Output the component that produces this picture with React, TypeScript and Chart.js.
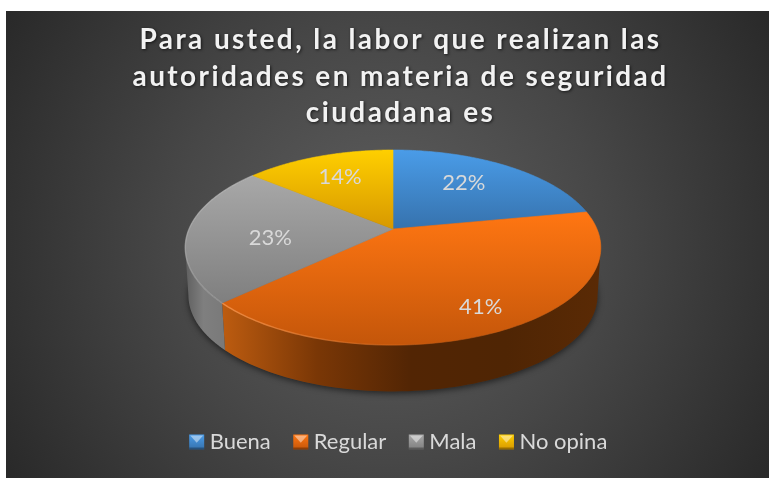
import React, { useEffect, useRef } from "react";
import { Chart, registerables } from "chart.js";

Chart.register(...registerables);

const categories = ["Buena", "Regular", "Mala", "No opina"];
const values = [22, 41, 23, 14];
const titleLines = [
  "Para usted, la labor que realizan las",
  "autoridades en materia de seguridad",
  "ciudadana es",
];
const baseColors = ["#3f87cf", "#ed6d10", "#999999", "#efb700"];
const topLight = ["#4a9ce8", "#ff7612", "#a8a8a8", "#ffcf00"];
const topDark = ["#3672ad", "#c4560a", "#7f7f7f", "#d79800"];
const sideStops: string[][] = [
  ["#1f4a73", "#1f4a73"],
  ["#bd5c10", "#7a3706", "#522504", "#4f2504", "#5a2a05"],
  ["#5f5f5f", "#7f7f7f", "#7a7a7a"],
  ["#8a6a00", "#8a6a00"],
];
const labelRadii = [0.62, 0.8, 0.6, 0.68];
const labelShiftX = [-3, 2, 0, 0];
const labelShiftY = [-5, 0, 7, 0];
const labelColor = "#d9d9d9";

const CX = 393;
const CY = 229;
const RX = 204;
const RY = 94;
const P = 0.19;
const DEPTH = 48.5;
const LOWER = 0.985;

function project(a: number, f = 1, dy = 0) {
  const c = Math.cos(a) * f;
  const s = Math.sin(a) * f;
  const k = 1 / (1 - P * s);
  return { x: CX + RX * c * k, y: CY + dy + RY * s * k };
}

const backdrop = {
  id: "backdrop",
  beforeDraw(chart: any) {
    const { ctx, width, height } = chart;
    ctx.save();
    ctx.fillStyle = "#ffffff";
    ctx.fillRect(0, 0, width, height);
    const g = ctx.createRadialGradient(388, 245, 10, 388, 245, 470);
    g.addColorStop(0, "#5e5e5e");
    g.addColorStop(0.45, "#474747");
    g.addColorStop(1, "#262626");
    ctx.fillStyle = g;
    ctx.fillRect(6, 11, width - 6, height - 11);
    ctx.restore();
    const t = chart.titleBlock;
    if (t && !t.__wrapped) {
      t.__wrapped = true;
      const d = t.draw.bind(t);
      t.draw = () => {
        const c = chart.ctx;
        c.save();
        (c as any).letterSpacing = "2.4px";
        c.shadowColor = "rgba(0,0,0,0.65)";
        c.shadowBlur = 3;
        c.shadowOffsetX = 1;
        c.shadowOffsetY = 1;
        d();
        c.restore();
      };
    }
  },
};

const pie3d = {
  id: "pie3d",
  beforeDatasetsDraw(chart: any) {
    const { ctx } = chart;
    const arcs = chart.getDatasetMeta(0).data;
    const lim = Math.asin(P);
    ctx.save();

    // soft shadow under the body
    ctx.save();
    ctx.shadowColor = "rgba(0,0,0,0.55)";
    ctx.shadowBlur = 6;
    ctx.shadowOffsetY = 2;
    ctx.fillStyle = "#3a3a3a";
    ctx.beginPath();
    for (let i = 0; i <= 120; i++) {
      const a = (i / 120) * Math.PI * 2;
      const p = project(a, LOWER, DEPTH);
      if (i === 0) ctx.moveTo(p.x, p.y);
      else ctx.lineTo(p.x, p.y);
    }
    ctx.closePath();
    ctx.fill();
    ctx.restore();

    // side walls
    arcs.forEach((arc: any, i: number) => {
      let a0 = arc.startAngle;
      let a1 = arc.endAngle;
      a0 = Math.max(a0, lim);
      a1 = Math.min(a1, Math.PI - lim);
      if (a1 <= a0) return;
      const stops = sideStops[i];
      const p0 = project(a0);
      const p1 = project(a1);
      const g = ctx.createLinearGradient(p1.x, 0, p0.x, 0);
      stops.forEach((c, j) => g.addColorStop(j / (stops.length - 1), c));
      ctx.fillStyle = g;
      ctx.beginPath();
      const N = 80;
      for (let j = 0; j <= N; j++) {
        const p = project(a0 + ((a1 - a0) * j) / N);
        if (j === 0) ctx.moveTo(p.x, p.y);
        else ctx.lineTo(p.x, p.y);
      }
      for (let j = N; j >= 0; j--) {
        const p = project(a0 + ((a1 - a0) * j) / N, LOWER, DEPTH);
        ctx.lineTo(p.x, p.y);
      }
      ctx.closePath();
      ctx.fill();
    });

    // top surfaces
    arcs.forEach((arc: any, i: number) => {
      const a0 = arc.startAngle;
      const a1 = arc.endAngle;
      const N = 120;
      let minY = Infinity;
      let maxY = -Infinity;
      const pts: { x: number; y: number }[] = [];
      for (let j = 0; j <= N; j++) {
        const p = project(a0 + ((a1 - a0) * j) / N);
        pts.push(p);
        minY = Math.min(minY, p.y);
        maxY = Math.max(maxY, p.y);
      }
      minY = Math.min(minY, CY);
      maxY = Math.max(maxY, CY);
      const g = ctx.createLinearGradient(0, minY, 0, maxY);
      g.addColorStop(0, topLight[i]);
      g.addColorStop(1, topDark[i]);
      ctx.fillStyle = g;
      ctx.beginPath();
      ctx.moveTo(CX, CY);
      pts.forEach((p) => ctx.lineTo(p.x, p.y));
      ctx.closePath();
      ctx.fill();
      ctx.strokeStyle = g;
      ctx.lineWidth = 0.6;
      ctx.stroke();

      // rim highlight
      const h = ctx.createLinearGradient(186, 0, 440, 0);
      if (i === 1) {
        h.addColorStop(0, "rgba(255,160,90,0.85)");
        h.addColorStop(1, "rgba(255,140,60,0)");
      } else if (i === 2) {
        h.addColorStop(0, "rgba(255,255,255,0.2)");
        h.addColorStop(1, "rgba(255,255,255,0.06)");
      } else {
        return;
      }
      ctx.strokeStyle = h;
      ctx.lineWidth = 1.4;
      ctx.beginPath();
      pts.forEach((p, j) => (j === 0 ? ctx.moveTo(p.x, p.y) : ctx.lineTo(p.x, p.y)));
      ctx.stroke();
    });

    // value labels
    ctx.fillStyle = labelColor;
    ctx.font = "22px Lato";
    ctx.textAlign = "center";
    ctx.textBaseline = "middle";
    arcs.forEach((arc: any, i: number) => {
      const mid = (arc.startAngle + arc.endAngle) / 2;
      const p = project(mid, labelRadii[i]);
      ctx.fillText(values[i] + "%", p.x + labelShiftX[i], p.y + labelShiftY[i]);
    });
    ctx.restore();
    return false;
  },
  afterDraw(chart: any) {
    const { ctx, legend } = chart;
    if (!legend || !legend.legendHitBoxes) return;
    legend.legendHitBoxes.forEach((b: any, i: number) => {
      const x = b.left - 4.5;
      const s = 15;
      const y = b.top + (b.height - s) / 2;
      ctx.save();
      const g = ctx.createLinearGradient(0, y, 0, y + s);
      g.addColorStop(0, topLight[i]);
      g.addColorStop(1, topDark[i]);
      ctx.fillStyle = g;
      ctx.fillRect(x, y, s, s);
      ctx.fillStyle = "rgba(255,255,255,0.45)";
      ctx.beginPath();
      ctx.moveTo(x + 1, y + 1);
      ctx.lineTo(x + s - 1, y + 1);
      ctx.lineTo(x + s / 2, y + s * 0.55);
      ctx.closePath();
      ctx.fill();
      ctx.fillStyle = "rgba(0,0,0,0.3)";
      ctx.fillRect(x, y + s - 2, s, 2);
      ctx.restore();
    });
  },
};

export default function App() {
  const ref = useRef<HTMLCanvasElement>(null);
  useEffect(() => {
    document.body.style.margin = "0";
    const chart = new Chart(ref.current!, {
      type: "pie",
      data: {
        labels: categories,
        datasets: [{ data: values, backgroundColor: baseColors, borderWidth: 0 }],
      },
      options: {
        responsive: false,
        animation: false,
        layout: { padding: { left: 32, right: 0, top: 0, bottom: 15 } },
        plugins: {
          tooltip: { enabled: false },
          title: {
            display: true,
            text: titleLines,
            color: "#f2f2f2",
            font: { family: "Lato", size: 28, weight: "bold", lineHeight: 1.3 },
            padding: { top: 22, bottom: 10 },
          },
          legend: {
            position: "bottom",
            labels: {
              boxWidth: 5,
              boxHeight: 5,
              color: labelColor,
              font: { family: "Lato", size: 22 },
              padding: 27,
              generateLabels: () =>
                categories.map((text, i) => ({
                  text,
                  fillStyle: "rgba(0,0,0,0)",
                  strokeStyle: "rgba(0,0,0,0)",
                  lineWidth: 0,
                  fontColor: labelColor,
                  index: i,
                })),
            },
          },
        },
      },
      plugins: [backdrop, pie3d],
    } as any);
    return () => chart.destroy();
  }, []);
  return <canvas ref={ref} width={769} height={478} style={{ display: "block" }} />;
}
